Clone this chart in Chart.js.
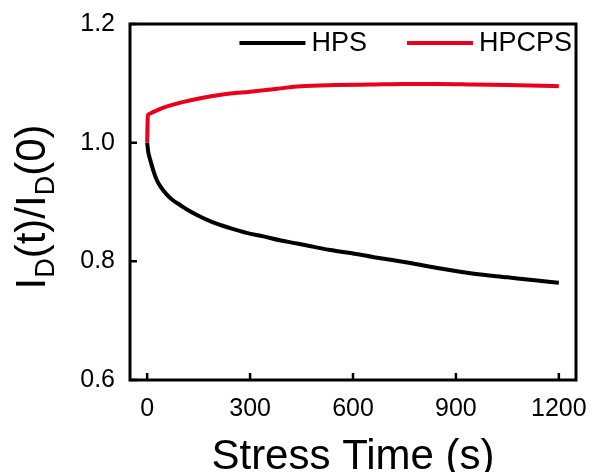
<!DOCTYPE html>
<html>
<head>
<meta charset="utf-8">
<script src="https://cdn.jsdelivr.net/npm/chart.js@4.4.0/dist/chart.umd.min.js"></script>
<style>
  html, body { margin: 0; padding: 0; background: #fff; }
  #wrap { width: 592px; height: 472px; }
</style>
</head>
<body>
<div id="wrap"><canvas id="chart" width="592" height="472"></canvas></div>
<script>
// Data
const seriesNames = ['HPS', 'HPCPS'];
const seriesColors = ['#000000', '#e8001c'];

const hpsTime  = [0, 3, 9, 18, 28, 40, 58, 75, 96, 120, 145, 190, 242, 290, 339, 390, 437, 490, 534, 593, 661, 758, 855, 953, 1050, 1130, 1200];
const hpsRatio = [1.0, 0.985, 0.971, 0.953, 0.937, 0.925, 0.912, 0.903, 0.895, 0.886, 0.878, 0.866, 0.856, 0.848, 0.842, 0.835, 0.830, 0.824, 0.819, 0.814, 0.807, 0.798, 0.788, 0.779, 0.773, 0.768, 0.764];

const hpcpsTime  = [0, 2, 5, 15, 30, 58, 100, 155, 220, 300, 380, 447, 550, 650, 750, 850, 950, 1050, 1150, 1200];
const hpcpsRatio = [1.0, 1.045, 1.048, 1.051, 1.055, 1.061, 1.068, 1.075, 1.081, 1.086, 1.091, 1.095, 1.097, 1.098, 1.099, 1.099, 1.098, 1.097, 1.096, 1.095];

const xTicks = [0, 300, 600, 900, 1200];
const yTicks = [0.6, 0.8, 1.0, 1.2];

const FONT = "'Liberation Sans', Arial, sans-serif";

const toPoints = (xs, ys) => xs.map((x, i) => ({ x: x, y: ys[i] }));

// frame, inward ticks, axis titles, legend
const decorations = {
  id: 'decorations',
  afterDatasetsDraw(chart) {
    const ctx = chart.ctx;
    const a = chart.chartArea;
    const xs = chart.scales.x, ys = chart.scales.y;
    ctx.save();
    ctx.strokeStyle = '#000';
    ctx.lineWidth = 3;
    ctx.strokeRect(a.left, a.top, a.right - a.left, a.bottom - a.top);

    ctx.lineWidth = 2.5;
    ctx.beginPath();
    xTicks.forEach(v => {
      const px = xs.getPixelForValue(v);
      ctx.moveTo(px, a.bottom);
      ctx.lineTo(px, a.bottom - 7);
    });
    yTicks.forEach(v => {
      const py = ys.getPixelForValue(v);
      ctx.moveTo(a.left, py);
      ctx.lineTo(a.left + 7, py);
    });
    ctx.stroke();

    // legend, right aligned inside the plot
    ctx.font = '27px ' + FONT;
    ctx.textBaseline = 'middle';
    const ly = a.top + 19;
    let xEnd = a.right - 4;
    for (let i = seriesNames.length - 1; i >= 0; i--) {
      const w = ctx.measureText(seriesNames[i]).width;
      const tx = xEnd - w;
      ctx.fillStyle = '#000';
      ctx.textAlign = 'left';
      ctx.fillText(seriesNames[i], tx, ly + 1);
      ctx.strokeStyle = seriesColors[i];
      ctx.lineWidth = 4;
      ctx.beginPath();
      ctx.moveTo(tx - 72, ly);
      ctx.lineTo(tx - 6, ly);
      ctx.stroke();
      xEnd = tx - 72 - 40;
    }

    // x title
    ctx.fillStyle = '#000';
    ctx.textAlign = 'center';
    ctx.textBaseline = 'alphabetic';
    ctx.font = '42px ' + FONT;
    ctx.fillText('Stress Time (s)', (a.left + a.right) / 2, 469);

    // y title with subscripts
    const parts = [['I', false], ['D', true], ['(t)/I', false], ['D', true], ['(0)', false]];
    const big = '42px ' + FONT, small = '27px ' + FONT;
    let total = 0;
    parts.forEach(p => { ctx.font = p[1] ? small : big; total += ctx.measureText(p[0]).width; });
    ctx.translate(45, (a.top + a.bottom) / 2 + 5);
    ctx.rotate(-Math.PI / 2);
    ctx.textAlign = 'left';
    let cx = -total / 2;
    parts.forEach(p => {
      ctx.font = p[1] ? small : big;
      ctx.fillText(p[0], cx, p[1] ? 9 : 0);
      cx += ctx.measureText(p[0]).width;
    });
    ctx.restore();
  }
};

new Chart(document.getElementById('chart'), {
  type: 'line',
  data: {
    datasets: [
      {
        label: seriesNames[0],
        data: toPoints(hpsTime, hpsRatio),
        borderColor: seriesColors[0],
        borderWidth: 4,
        pointRadius: 0,
        cubicInterpolationMode: 'monotone',
        fill: false
      },
      {
        label: seriesNames[1],
        data: toPoints(hpcpsTime, hpcpsRatio),
        borderColor: seriesColors[1],
        borderWidth: 4,
        pointRadius: 0,
        cubicInterpolationMode: 'monotone',
        fill: false
      }
    ]
  },
  options: {
    responsive: false,
    animation: false,
    layout: { padding: { top: 24, right: 16, left: 0, bottom: 0 } },
    plugins: {
      legend: { display: false },
      tooltip: { enabled: false }
    },
    scales: {
      x: {
        type: 'linear',
        min: -50,
        max: 1250,
        grid: { display: false, drawTicks: false },
        border: { display: false },
        afterFit: s => { s.height = 92; s.paddingLeft = 0; s.paddingRight = 0; },
        afterBuildTicks: s => { s.ticks = xTicks.map(v => ({ value: v })); },
        ticks: {
          color: '#000',
          padding: 14,
          maxRotation: 0,
          font: { family: FONT, size: 25 },
          callback: v => String(v)
        }
      },
      y: {
        min: 0.6,
        max: 1.2,
        grid: { display: false, drawTicks: false },
        border: { display: false },
        afterFit: s => { s.width = 130; s.paddingTop = 0; s.paddingBottom = 0; },
        afterBuildTicks: s => { s.ticks = yTicks.map(v => ({ value: v })); },
        ticks: {
          color: '#000',
          padding: 15,
          font: { family: FONT, size: 25 },
          callback: v => Number(v).toFixed(1)
        }
      }
    }
  },
  plugins: [decorations]
});
</script>
</body>
</html>
